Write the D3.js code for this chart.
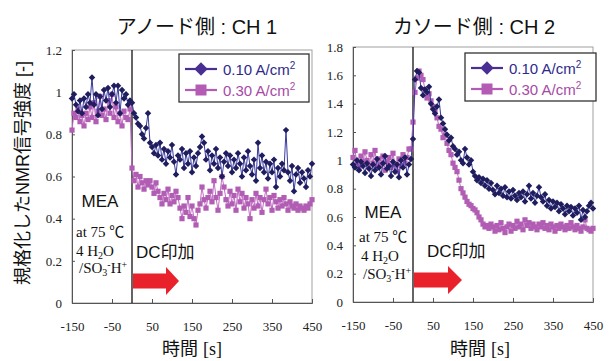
<!DOCTYPE html>
<html>
<head>
<meta charset="utf-8">
<script src="https://d3js.org/d3.v7.min.js"></script>
<style>
  body { margin: 0; background: #fff; }
  svg { display: block; font-family: "Liberation Sans", "Noto Sans CJK JP", sans-serif; }
  .tick text { font-family: "Liberation Serif", serif; font-size: 13px; fill: #222; }
  .serif { font-family: "Liberation Serif", "Noto Sans CJK JP", serif; }
</style>
</head>
<body>
<svg id="chart" width="611" height="361"></svg>
<script>
// sampling times [s]
const times = [-150,-145,-140,-135,-130,-125,-120,-115,-110,-105,-100,-95,-90,-85,-80,-75,-70,-65,-60,-55,
  -50,-45,-40,-35,-30,-25,-20,-15,-10,-5,0,5,10,15,20,25,30,35,40,45,50,55,60,65,70,75,80,85,90,95,
  100,105,110,115,120,125,130,135,140,145,150,155,160,165,170,175,180,185,190,195,200,205,210,215,220,225,230,235,240,245,
  250,255,260,265,270,275,280,285,290,295,300,305,310,315,320,325,330,335,340,345,350,355,360,365,370,375,380,385,390,395,
  400,405,410,415,420,425,430,435,440,445,450];

// anode side CH1
const ch1Low = [0.97,0.99,0.94,0.91,0.96,0.90,0.97,0.93,0.99,0.95,1.07,0.94,0.99,0.89,0.98,0.92,1.01,0.96,1.02,0.93,
  0.99,1.03,0.95,1.03,0.90,1.01,0.97,0.99,0.94,0.96,
  0.95,0.90,0.88,0.85,0.84,0.80,0.78,0.83,0.90,0.76,0.74,0.71,0.75,0.70,0.76,0.68,0.73,0.66,0.72,0.69,
  0.75,0.67,0.61,0.70,0.68,0.73,0.64,0.71,0.66,0.72,0.62,0.69,0.65,0.71,0.74,0.79,0.76,0.68,0.72,0.63,
  0.70,0.66,0.73,0.64,0.69,0.60,0.67,0.71,0.65,0.70,0.62,0.68,0.64,0.71,0.66,0.60,0.69,0.63,0.72,0.65,
  0.61,0.68,0.58,0.76,0.64,0.70,0.62,0.67,0.59,0.66,0.62,0.68,0.55,0.64,0.60,0.66,0.63,0.82,0.62,0.58,
  0.65,0.53,0.61,0.64,0.57,0.62,0.59,0.55,0.63,0.60,0.66];
const ch1High = [0.82,0.90,0.88,0.92,0.86,0.89,0.84,0.90,0.87,0.93,0.88,0.95,0.86,0.91,0.98,0.89,0.92,0.87,0.96,0.90,
  0.99,0.88,0.93,0.86,0.90,0.84,0.91,0.88,0.87,0.92,
  0.64,0.58,0.61,0.55,0.60,0.57,0.54,0.58,0.56,0.58,0.55,0.52,0.57,0.53,0.50,0.47,0.52,0.49,0.54,0.47,
  0.51,0.48,0.53,0.50,0.45,0.40,0.46,0.43,0.50,0.41,0.46,0.40,0.37,0.44,0.47,0.55,0.49,0.45,0.50,0.53,
  0.48,0.58,0.50,0.44,0.52,0.60,0.55,0.49,0.46,0.53,0.47,0.51,0.44,0.54,0.48,0.52,0.45,0.50,0.47,0.40,
  0.49,0.45,0.52,0.46,0.50,0.43,0.49,0.54,0.47,0.50,0.44,0.51,0.48,0.45,0.49,0.46,0.50,0.47,0.44,0.48,
  0.46,0.45,0.47,0.44,0.46,0.45,0.44,0.46,0.45,0.47,0.49];

// cathode side CH2
const ch2Low = [0.97,0.95,1.00,0.93,0.99,0.96,0.91,0.98,0.94,0.89,0.97,0.93,1.01,0.95,0.90,0.98,1.03,0.94,0.96,0.89,
  0.99,0.92,0.97,0.88,1.00,0.95,1.02,0.90,0.97,1.01,
  1.15,1.57,1.63,1.62,1.51,1.46,1.50,1.48,1.52,1.40,1.36,1.33,1.38,1.43,1.30,1.26,1.22,1.18,1.14,1.16,
  1.10,1.08,1.04,1.06,1.00,0.98,1.08,1.02,0.97,1.00,0.92,0.89,0.86,0.88,0.84,0.87,0.82,0.86,0.80,0.84,
  0.79,0.76,0.82,0.77,0.80,0.75,0.81,0.74,0.78,0.73,0.79,0.75,0.72,0.77,0.74,0.78,0.71,0.76,0.82,0.73,
  0.77,0.70,0.75,0.81,0.74,0.71,0.76,0.68,0.72,0.66,0.71,0.67,0.70,0.64,0.69,0.66,0.62,0.68,0.64,0.67,
  0.61,0.66,0.63,0.68,0.58,0.65,0.60,0.64,0.68,0.70,0.66];
const ch2High = [1.02,1.07,0.98,0.94,1.03,0.99,1.06,1.00,0.96,1.04,0.98,1.07,0.95,1.01,0.97,1.03,0.93,0.99,1.02,0.95,
  1.05,0.97,0.92,1.01,0.96,1.04,0.98,1.02,1.08,1.08,
  1.27,1.48,1.58,1.63,1.60,1.57,1.50,1.44,1.47,1.42,1.38,1.35,1.30,1.24,1.22,1.16,1.18,1.12,1.07,1.04,
  0.98,0.95,0.92,0.86,0.80,0.77,0.74,0.71,0.69,0.68,0.66,0.65,0.63,0.60,0.58,0.55,0.53,0.54,0.52,0.55,
  0.53,0.50,0.54,0.51,0.56,0.52,0.49,0.53,0.55,0.50,0.54,0.52,0.57,0.53,0.55,0.51,0.58,0.54,0.56,0.52,
  0.55,0.53,0.51,0.55,0.53,0.56,0.52,0.54,0.51,0.55,0.53,0.50,0.54,0.52,0.55,0.53,0.51,0.54,0.52,0.56,
  0.53,0.51,0.54,0.52,0.50,0.53,0.58,0.52,0.51,0.50,0.52];

const xTicks = [-150, -50, 50, 150, 250, 350, 450];
const ch1YTicks = [0, 0.2, 0.4, 0.6, 0.8, 1, 1.2];
const ch2YTicks = [0, 0.2, 0.4, 0.6, 0.8, 1, 1.2, 1.4, 1.6, 1.8];
const seriesLabels = ["0.10 A/cm", "0.30 A/cm"];
const panelTitles = ["アノード側 : CH 1", "カソード側 : CH 2"];

const lowColor = { line: "#3a3a9e", mark: "#1f1d5e", legend: "#4a2f92", text: "#2e2a8c" };
const highColor = { line: "#c26cc4", mark: "#b25db4", legend: "#b35bb5", text: "#a64aa6" };

const svg = d3.select("#chart");

const panels = [
  { title: panelTitles[0], low: ch1Low, high: ch1High, yTicks: ch1YTicks, yMax: 1.2,
    left: 72, right: 312, top: 50, bottom: 303, titleX: 197,
    legend: { x: 179, y: 54, w: 130, h: 48 },
    text: { mea: [100, 207], at: [76, 237], h2o: [76, 256], so3: [79, 273], dc: [136, 258], xlab: [192, 355] },
    arrow: { y: 281, head: 166, tip: 179 } },
  { title: panelTitles[1], low: ch2Low, high: ch2High, yTicks: ch2YTicks, yMax: 1.8,
    left: 353, right: 593, top: 47, bottom: 302, titleX: 474,
    legend: { x: 465, y: 53, w: 131, h: 48 },
    text: { mea: [383, 218], at: [359, 242], h2o: [361, 261], so3: [363, 279], dc: [427, 257], xlab: [480, 355] },
    arrow: { y: 280, head: 448, tip: 462 } }
];

const diamond = d3.symbol().type(d3.symbolSquare);

panels.forEach(p => {
  const x = d3.scaleLinear().domain([-150, 450]).range([p.left, p.right]);
  const y = d3.scaleLinear().domain([0, p.yMax]).range([p.bottom, p.top]);
  const g = svg.append("g");

  // frame
  g.append("rect")
    .attr("x", p.left).attr("y", p.top)
    .attr("width", p.right - p.left).attr("height", p.bottom - p.top)
    .attr("fill", "none").attr("stroke", "#a0a0a0").attr("stroke-width", 1);

  const xAxis = g.append("g")
    .attr("transform", `translate(0,${p.bottom})`)
    .call(d3.axisBottom(x).tickValues(xTicks).tickSize(-4).tickPadding(19).tickFormat(d => String(d)));
  xAxis.select(".domain").attr("stroke", "#555");
  xAxis.selectAll(".tick line").attr("stroke", "#555");

  const yAxis = g.append("g")
    .attr("transform", `translate(${p.left},0)`)
    .call(d3.axisLeft(y).tickValues(p.yTicks).tickSize(-3).tickPadding(10).tickFormat(d => String(+d.toFixed(1))));
  yAxis.select(".domain").attr("stroke", "#555");
  yAxis.selectAll(".tick line").attr("stroke", "#555");

  // DC start line
  g.append("line")
    .attr("x1", x(0)).attr("x2", x(0))
    .attr("y1", y(p.yMax)).attr("y2", y(0))
    .attr("stroke", "#111").attr("stroke-width", 1.3);

  const line = d3.line().x((d, i) => x(times[i])).y(d => y(d));

  // 0.30 series
  g.append("path").datum(p.high)
    .attr("d", line).attr("fill", "none")
    .attr("stroke", highColor.line).attr("stroke-width", 1);
  g.selectAll(".sq").data(p.high).enter().append("rect")
    .attr("x", (d, i) => x(times[i]) - 2.6).attr("y", d => y(d) - 2.6)
    .attr("width", 5.2).attr("height", 5.2)
    .attr("fill", highColor.mark);

  // 0.10 series
  g.append("path").datum(p.low)
    .attr("d", line).attr("fill", "none")
    .attr("stroke", lowColor.line).attr("stroke-width", 1);
  g.selectAll(".dm").data(p.low).enter().append("path")
    .attr("d", diamond.size(21))
    .attr("transform", (d, i) => `translate(${x(times[i])},${y(d)}) rotate(45)`)
    .attr("fill", lowColor.mark);

  // legend
  const L = p.legend;
  g.append("rect")
    .attr("x", L.x).attr("y", L.y).attr("width", L.w).attr("height", L.h)
    .attr("fill", "#fff").attr("stroke", "#333").attr("stroke-width", 1.3);
  const rows = [
    { c: lowColor, label: seriesLabels[0], dy: 15 },
    { c: highColor, label: seriesLabels[1], dy: 36 }
  ];
  rows.forEach((r, k) => {
    const yy = L.y + r.dy;
    g.append("line")
      .attr("x1", L.x + 6).attr("x2", L.x + 38).attr("y1", yy).attr("y2", yy)
      .attr("stroke", r.c.legend).attr("stroke-width", 2.2);
    if (k === 0) {
      g.append("path").attr("d", diamond.size(90))
        .attr("transform", `translate(${L.x + 22},${yy}) rotate(45)`)
        .attr("fill", r.c.legend);
    } else {
      g.append("rect").attr("x", L.x + 22 - 5.5).attr("y", yy - 5.5)
        .attr("width", 11).attr("height", 11).attr("fill", r.c.legend);
    }
    const t = g.append("text")
      .attr("x", L.x + 44).attr("y", yy + 5.5)
      .attr("font-size", 15).attr("fill", r.c.text)
      .text(r.label);
    t.append("tspan").attr("dy", -6).attr("font-size", 10).text("2");
  });

  // title
  svg.append("text")
    .attr("x", p.titleX).attr("y", 34)
    .attr("text-anchor", "middle").attr("font-size", 20).attr("fill", "#111")
    .text(p.title);

  // x label
  const xl = svg.append("text")
    .attr("x", p.text.xlab[0]).attr("y", p.text.xlab[1])
    .attr("text-anchor", "middle").attr("font-size", 18).attr("fill", "#111");
  xl.append("tspan").text("時間 ");
  xl.append("tspan").attr("class", "serif").text("[s]");

  // annotations
  const T = p.text;
  g.append("text").attr("x", T.mea[0]).attr("y", T.mea[1])
    .attr("text-anchor", "middle").attr("font-size", 17).attr("fill", "#111").text("MEA");
  g.append("text").attr("class", "serif").attr("x", T.at[0]).attr("y", T.at[1])
    .attr("font-size", 15).attr("fill", "#111").text("at 75 ℃");
  const h = g.append("text").attr("class", "serif").attr("x", T.h2o[0]).attr("y", T.h2o[1])
    .attr("font-size", 15).attr("fill", "#111");
  h.append("tspan").text("4 H");
  h.append("tspan").attr("dy", 3).attr("font-size", 10).text("2");
  h.append("tspan").attr("dy", -3).text("O");
  const s = g.append("text").attr("class", "serif").attr("x", T.so3[0]).attr("y", T.so3[1])
    .attr("font-size", 15).attr("fill", "#111");
  s.append("tspan").text("/SO");
  s.append("tspan").attr("dy", 3).attr("font-size", 10).text("3");
  s.append("tspan").attr("dy", -8).attr("font-size", 10).text("-");
  s.append("tspan").attr("dy", 5).text("H");
  s.append("tspan").attr("dy", -5).attr("font-size", 10).text("+");
  g.append("text").attr("x", T.dc[0]).attr("y", T.dc[1])
    .attr("font-size", 17).attr("fill", "#111").text("DC印加");

  // red arrow
  const A = p.arrow, x0 = x(0) + 1;
  g.append("path")
    .attr("d", `M${x0},${A.y - 7.5}L${A.head},${A.y - 7.5}L${A.head},${A.y - 14}L${A.tip},${A.y}` +
      `L${A.head},${A.y + 14}L${A.head},${A.y + 7.5}L${x0},${A.y + 7.5}Z`)
    .attr("fill", "#e8212b");
});

// y label
svg.append("text")
  .attr("transform", "translate(29,173) rotate(-90)")
  .attr("text-anchor", "middle").attr("font-size", 18).attr("fill", "#111")
  .text("規格化したNMR信号強度 [-]");
</script>
</body>
</html>
